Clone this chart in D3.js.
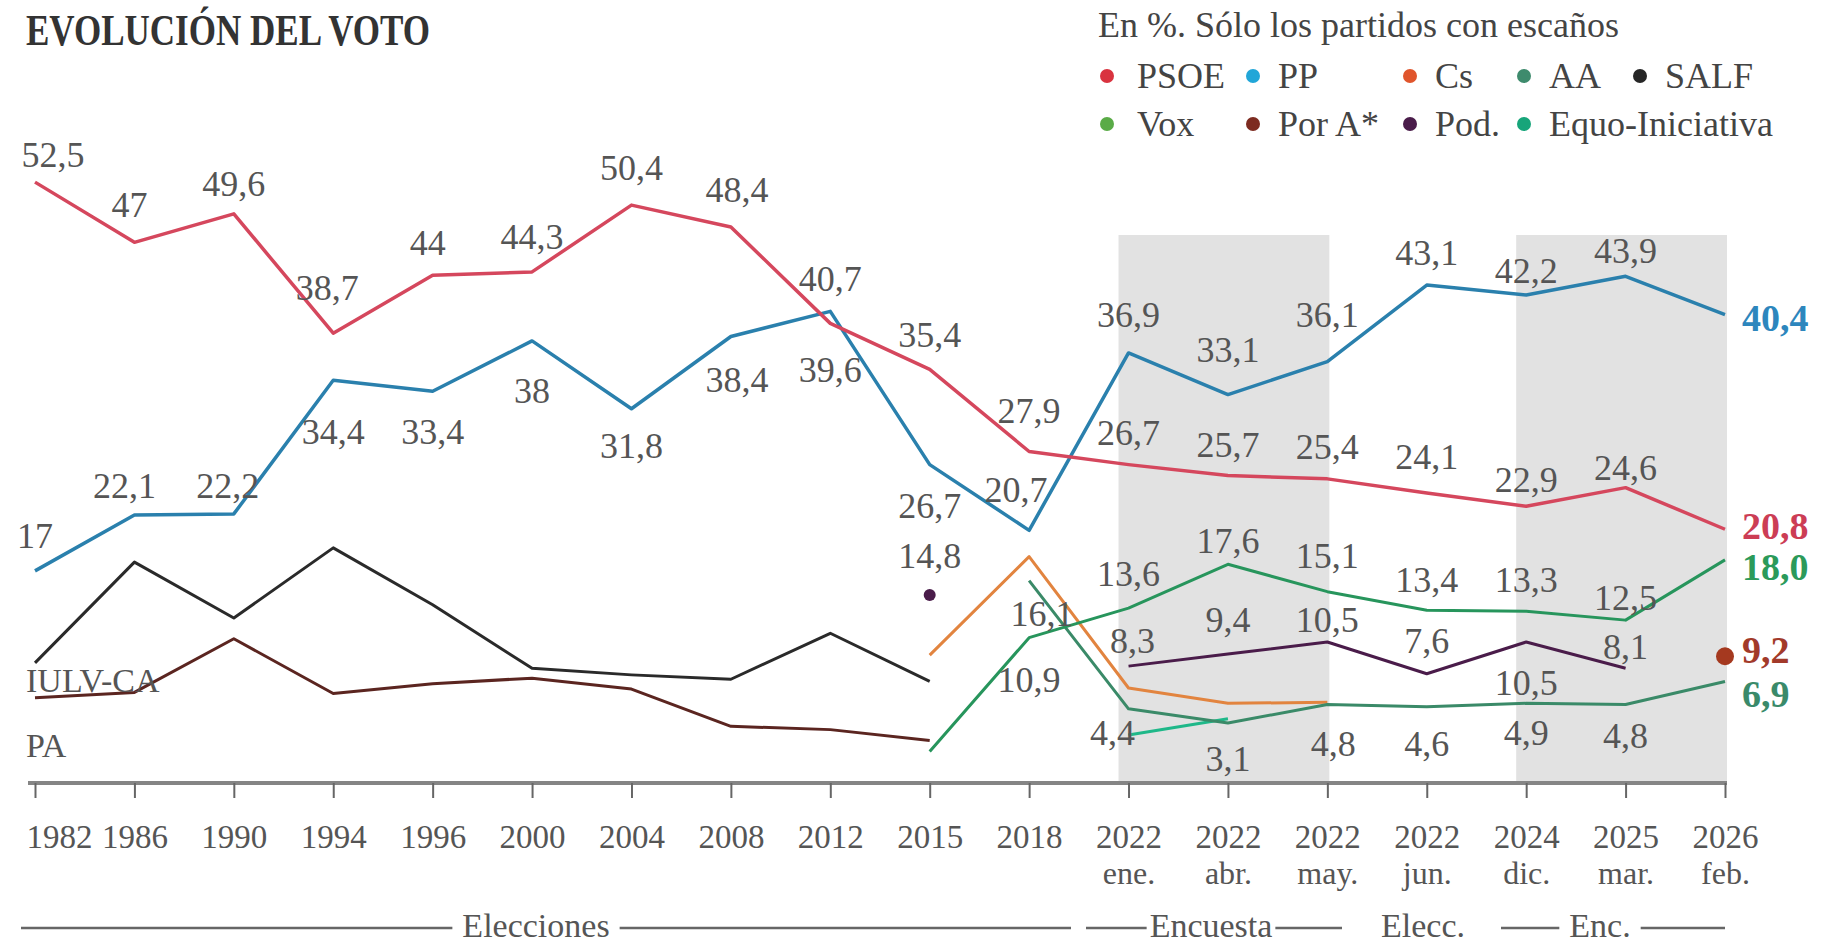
<!DOCTYPE html>
<html>
<head>
<meta charset="utf-8">
<script src="https://cdn.jsdelivr.net/npm/d3@7"></script>
<style>
  body { margin: 0; background: #fff; }
  svg { display: block; font-family: "Liberation Serif", serif; }
</style>
</head>
<body>
<svg id="chart" width="1846" height="946"></svg>
<script>
// categorias del eje
const years  = ["1982","1986","1990","1994","1996","2000","2004","2008","2012","2015","2018","2022","2022","2022","2022","2024","2025","2026"];
const months = ["","","","","","","","","","","","ene.","abr.","may.","jun.","dic.","mar.","feb."];
const categories = years.map((y, i) => months[i] ? y + " " + months[i] : y);

// votos en %
const psoe  = [52.5, 47, 49.6, 38.7, 44, 44.3, 50.4, 48.4, 39.6, 35.4, 27.9, 26.7, 25.7, 25.4, 24.1, 22.9, 24.6, 20.8];
const pp    = [17, 22.1, 22.2, 34.4, 33.4, 38, 31.8, 38.4, 40.7, 26.7, 20.7, 36.9, 33.1, 36.1, 43.1, 42.2, 43.9, 40.4];
const iulv  = [8.6, 17.8, 12.7, 19.1, 13.9, 8.1, 7.5, 7.1, 11.3, 6.9, null, null, null, null, null, null, null, null];
const pa    = [5.4, 5.9, 10.8, 5.8, 6.7, 7.2, 6.2, 2.8, 2.5, 1.5, null, null, null, null, null, null, null, null];
const cs    = [null, null, null, null, null, null, null, null, null, 9.3, 18.3, 6.3, 4.9, 5.0, null, null, null, null];
const aa    = [null, null, null, null, null, null, null, null, null, null, 16.1, 4.4, 3.1, 4.8, 4.6, 4.9, 4.8, 6.9];
const vox   = [null, null, null, null, null, null, null, null, null, 0.5, 10.9, 13.6, 17.6, 15.1, 13.4, 13.3, 12.5, 18.0];
const pod   = [null, null, null, null, null, null, null, null, null, 14.8, null, 8.3, 9.4, 10.5, 7.6, 10.5, 8.1, null];
const porA  = [null, null, null, null, null, null, null, null, null, null, null, null, null, null, null, null, null, 9.2];
const equo  = [null, null, null, null, null, null, null, null, null, null, null, 2.0, 3.5, null, null, null, null, null];

// leyenda
const legendNames  = ["PSOE", "PP", "Cs", "AA", "SALF", "Vox", "Por A*", "Pod.", "Equo-Iniciativa"];
const legendColors = ["#d9333f", "#21a6d8", "#e0552c", "#3e8b6d", "#262626", "#5aab47", "#7d2b20", "#4a1c4a", "#17a57a"];

// tramos de abajo
const periodNames = ["Elecciones", "Encuesta", "Elecc.", "Enc."];

const width = 1846, height = 946;
const svg = d3.select("#chart");

const x = d3.scalePoint().domain(categories).range([35, 1725]);
const y = d3.scaleLinear().domain([0, 60]).range([757, 100]);

// bandas grises de encuestas
const bands = [[11, 13], [15, 17]];
svg.append("g").selectAll("rect")
  .data(bands)
  .join("rect")
  .attr("x", d => x(categories[d[0]]) - 10)
  .attr("width", d => x(categories[d[1]]) - x(categories[d[0]]) + 12)
  .attr("y", 235)
  .attr("height", 781 - 235)
  .attr("fill", "#e2e2e2");

// titulo
svg.append("text")
  .attr("x", 26).attr("y", 45)
  .attr("font-size", 45).attr("font-weight", "bold")
  .attr("fill", "#333")
  .attr("textLength", 404).attr("lengthAdjust", "spacingAndGlyphs")
  .text("EVOLUCIÓN DEL VOTO");

svg.append("text")
  .attr("x", 1098).attr("y", 37)
  .attr("font-size", 36).attr("fill", "#444")
  .text("En %. Sólo los partidos con escaños");

// leyenda
const colX = [1107, 1253, 1410, 1524, 1640];
const rowY = [76, 124];
const legend = svg.append("g").selectAll("g")
  .data(legendNames)
  .join("g")
  .attr("transform", (d, i) => `translate(${colX[i < 5 ? i : i - 5]},${rowY[i < 5 ? 0 : 1]})`);
legend.append("circle").attr("r", 7).attr("fill", (d, i) => legendColors[i]);
legend.append("text")
  .attr("x", (d, i) => i === 0 || i === 5 ? 30 : 25).attr("y", 12)
  .attr("font-size", 36).attr("fill", "#444")
  .text(d => d);

// series: orden de dibujo
const series = [
  { name: "PA",   values: pa,   color: "#5b2520", width: 3 },
  { name: "IULV", values: iulv, color: "#2a2a2a", width: 3 },
  { name: "Equo", values: equo, color: "#1fb889", width: 3 },
  { name: "Cs",   values: cs,   color: "#e2843f", width: 3 },
  { name: "AA",   values: aa,   color: "#3a8a68", width: 3 },
  { name: "Vox",  values: vox,  color: "#27955c", width: 3 },
  { name: "Pod",  values: pod,  color: "#4a1c4a", width: 3, r: 6 },
  { name: "PorA", values: porA, color: "#a5391f", width: 3, r: 9 },
  { name: "PP",   values: pp,   color: "#2a80ad", width: 3.5 },
  { name: "PSOE", values: psoe, color: "#d5475d", width: 3.5 }
];

const line = d3.line()
  .defined(d => d.v != null)
  .x(d => x(d.c))
  .y(d => y(d.v));

const plot = svg.append("g");
series.forEach(s => {
  const pts = s.values.map((v, i) => ({ c: categories[i], v: v }));
  plot.append("path")
    .datum(pts)
    .attr("fill", "none")
    .attr("stroke", s.color)
    .attr("stroke-width", s.width)
    .attr("stroke-linejoin", "round")
    .attr("d", line);
  // puntos sueltos
  const lone = pts.filter((p, i) => p.v != null &&
    (i === 0 || s.values[i - 1] == null) && (i === pts.length - 1 || s.values[i + 1] == null));
  plot.selectAll(null)
    .data(lone)
    .join("circle")
    .attr("cx", d => x(d.c))
    .attr("cy", d => y(d.v))
    .attr("r", s.r || 5)
    .attr("fill", s.color);
});

// posicion de las etiquetas [dx, dy] respecto al punto (linea base)
const labelOffsets = {
  PSOE: [[18,-15],[-5,-25],[0,-18],[-6,-33],[-5,-20],[0,-23],[0,-25],[6,-25],[0,59],[0,-22],[0,-28],[0,-20],[0,-19],[0,-20],[0,-24],[0,-14],[0,-8],null],
  PP:   [[0,-23],[-10,-17],[-6,-16],[0,64],[0,53],[0,62],[0,49],[6,55],[0,-20],[0,53],[-13,-28],[0,-26],[0,-33],[0,-35],[0,-20],[0,-12],[0,-13],null],
  Vox:  [null,null,null,null,null,null,null,null,null,null,[0,54],[0,-22],[0,-11],[0,-24],[0,-18],[0,-19],[0,-10],null],
  AA:   [null,null,null,null,null,null,null,null,null,null,[13,45],[-16,36],[0,48],[6,52],[0,49],[0,42],[0,44],null],
  Pod:  [null,null,null,null,null,null,null,null,null,[0,-27],null,[4,-13],[0,-22],[0,-10],[0,-21],[0,53],[0,-9],null]
};
const fmt = v => String(v).replace(".", ",");

const labels = svg.append("g").attr("font-size", 36).attr("fill", "#555").attr("text-anchor", "middle");
series.forEach(s => {
  const offs = labelOffsets[s.name];
  if (!offs) return;
  s.values.forEach((v, i) => {
    if (v == null || !offs[i]) return;
    labels.append("text")
      .attr("x", x(categories[i]) + offs[i][0])
      .attr("y", y(v) + offs[i][1])
      .text(fmt(v));
  });
});

// etiquetas finales
const endColors = { PP: "#2d86bd", PSOE: "#cc3d55", Vox: "#2b9a5a", PorA: "#a23a2a", AA: "#3a8a6a" };
const endDy = { PP: 16, PSOE: 10, Vox: 20, PorA: 7, AA: 26 };
const last = categories.length - 1;
series.forEach(s => {
  const v = s.values[last];
  if (v == null) return;
  svg.append("text")
    .attr("x", 1742)
    .attr("y", y(v) + endDy[s.name])
    .attr("font-size", 38).attr("font-weight", "bold")
    .attr("fill", endColors[s.name])
    .text(v.toFixed(1).replace(".", ","));
});

// nombres a la izquierda
svg.append("text").attr("x", 26).attr("y", 692).attr("font-size", 34).attr("fill", "#555").text("IULV-CA");
svg.append("text").attr("x", 26).attr("y", 757).attr("font-size", 34).attr("fill", "#555").text("PA");

// eje x
const xAxis = d3.axisBottom(x)
  .tickSize(15)
  .tickSizeOuter(0)
  .tickFormat((d, i) => years[i]);

const gx = svg.append("g")
  .attr("transform", "translate(0,783)")
  .call(xAxis)
  .attr("font-family", null)
  .attr("font-size", null);
gx.select(".domain").attr("stroke", "#858585").attr("stroke-width", 4).attr("d", "M28,0H1727");
gx.selectAll(".tick line").attr("stroke", "#666").attr("stroke-width", 2);
gx.selectAll(".tick text")
  .attr("y", 65).attr("dy", null)
  .attr("font-size", 33).attr("fill", "#555");
gx.select(".tick text").attr("text-anchor", "start").attr("x", -9);
gx.selectAll(".tick").each(function (d, i) {
  if (!months[i]) return;
  d3.select(this).append("text")
    .attr("y", 101)
    .attr("text-anchor", "middle")
    .attr("font-size", 32).attr("fill", "#555")
    .text(months[i]);
});

// tramos: Elecciones / Encuesta / Elecc. / Enc.
const periodSpans = [[21, 1071], [1086, 1342], null, [1501, 1725]];
const periodCenters = [536, 1211, 1423, 1600];
const pg = svg.append("g").attr("font-size", 34).attr("fill", "#555");
periodNames.forEach((name, i) => {
  const t = pg.append("text")
    .attr("x", periodCenters[i]).attr("y", 937)
    .attr("text-anchor", "middle")
    .text(name);
  const span = periodSpans[i];
  if (!span) return;
  const w = t.node().getComputedTextLength();
  const gap = i === 1 ? 3 : 10;
  [[span[0], periodCenters[i] - w / 2 - gap], [periodCenters[i] + w / 2 + gap, span[1]]].forEach(seg => {
    pg.append("line")
      .attr("x1", seg[0]).attr("x2", seg[1])
      .attr("y1", 928).attr("y2", 928)
      .attr("stroke", "#666").attr("stroke-width", 2.5);
  });
});
</script>
</body>
</html>
